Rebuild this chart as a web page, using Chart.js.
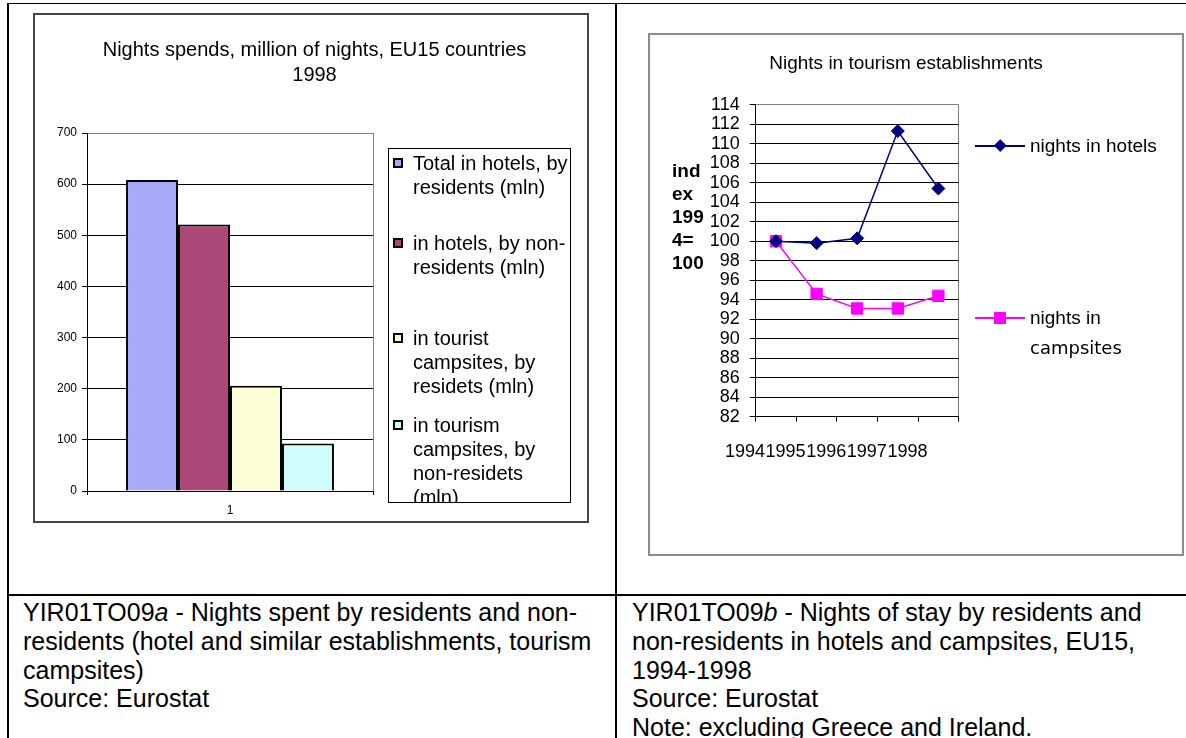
<!DOCTYPE html>
<html>
<head>
<meta charset="utf-8">
<script src="https://cdn.jsdelivr.net/npm/chart.js@4.4.1/dist/chart.umd.min.js"></script>
<style>
  html, body { margin: 0; padding: 0; background: #fff; }
  body { width: 1186px; height: 738px; position: relative; overflow: hidden;
         font-family: "Liberation Sans", Arial, sans-serif; color: #000; }
  .rule { position: absolute; background: #000; }
  canvas { position: absolute; }
  #barCanvas { left: 36px; top: 14px; }
  #lineCanvas { left: 649px; top: 34px; }
  #leftBox { position: absolute; left: 33px; top: 13px; width: 556px; height: 510px;
             box-sizing: border-box; border: 2px solid #444; }
  #rightBox { position: absolute; left: 648px; top: 33px; width: 536px; height: 523px;
              box-sizing: border-box; border: 2px solid #8c8c8c; }
  #barLegend { position: absolute; left: 388px; top: 148px; width: 183px; height: 355px;
               box-sizing: border-box; border: 1px solid #000; overflow: hidden; }
  .barItem { position: absolute; left: 0; width: 100%; }
  .barItem .swatch { position: absolute; left: 4px; top: 7px; width: 10px; height: 10px;
                     box-sizing: border-box; border: 2px solid #000; }
  .barItem .txt { position: absolute; left: 24px; top: 0; width: 159px; font-size: 20px; line-height: 24px; }
  .lineItem { position: absolute; left: 975px; width: 205px; height: 30px; }
  .lineItem .sample { position: absolute; left: 0; top: 14px; width: 50px; height: 2px; }
  .lineItem .marker { position: absolute; }
  .lineItem .txt { position: absolute; left: 55px; top: 0; width: 150px;
                   font-family: "DejaVu Sans", sans-serif; font-size: 18px; line-height: 30px; }
  .lineItem .txt::first-line { font-family: "Liberation Sans", Arial, sans-serif; font-size: 19px; }
  #yTitle { position: absolute; left: 672px; top: 158.5px; font-weight: bold; font-size: 19px; line-height: 23px; }
  .caption { position: absolute; top: 598px; font-size: 25px; line-height: 28.75px; white-space: nowrap; }
</style>
</head>
<body>

<!-- table rules -->
<div class="rule" style="left:7px; top:2.5px; width:1179px; height:1.5px;"></div>
<div class="rule" style="left:7.3px; top:3px; width:1.5px; height:735px;"></div>
<div class="rule" style="left:615.3px; top:3px; width:1.5px; height:735px;"></div>
<div class="rule" style="left:7px; top:594.3px; width:1179px; height:1.5px;"></div>

<div id="leftBox"></div>
<div id="rightBox"></div>

<canvas id="barCanvas" width="557" height="508"></canvas>
<div id="barLegend"></div>

<canvas id="lineCanvas" width="514" height="521"></canvas>
<div id="yTitle"></div>

<div class="caption" style="left:23px;">YIR01TO09<i>a</i> - Nights spent by residents and non-<br>residents (hotel and similar establishments, tourism<br>campsites)<br>Source: Eurostat</div>
<div class="caption" style="left:632px;">YIR01TO09<i>b</i> - Nights of stay by residents and<br>non-residents in hotels and campsites, EU15,<br>1994-1998<br>Source: Eurostat<br>Note: excluding Greece and Ireland.</div>

<script>
// left chart data (million nights, 1998)
const barCategories = ['1'];
const barSeriesLabels = [
    'Total in hotels, by residents (mln)',
    'in hotels, by non-residents (mln)',
    'in tourist campsites, by residets (mln)',
    'in tourism campsites, by non-residets (mln)'
];
const hotelsResidents = [608];
const hotelsNonResidents = [521];
const campsitesResidents = [206];
const campsitesNonResidents = [93];
const barTicks = { min: 0, max: 700, step: 100 };

// right chart data (index 1994 = 100)
const years = ['1994', '1995', '1996', '1997', '1998'];
const lineSeriesLabels = ['nights in hotels', 'nights in campsites'];
const nightsInHotels = [100, 99.8, 100.3, 111.3, 105.4];
const nightsInCampsites = [100, 94.6, 93.1, 93.1, 94.4];
const lineTicks = { min: 82, max: 114, step: 2 };
const yTitleLines = ['ind', 'ex', '199', '4=', '100'];

Chart.defaults.font.family = '"Liberation Sans", Arial, sans-serif';
Chart.defaults.color = '#000';

// empty axis that only reserves room for the html legend on the right
function spacerAxis(width) {
    return {
        type: 'linear',
        position: 'right',
        display: true,
        grid: { display: false },
        border: { display: false },
        ticks: { display: false },
        afterFit: s => { s.width = width; }
    };
}

const barData = [hotelsResidents, hotelsNonResidents, campsitesResidents, campsitesNonResidents];
const barFill = ['#A9A9FC', '#AC4877', '#FFFFD7', '#CFFCFC'];

const barChart = new Chart(document.getElementById('barCanvas'), {
    type: 'bar',
    data: {
        labels: barCategories,
        datasets: barData.map((values, i) => ({
            label: barSeriesLabels[i],
            data: values,
            yAxisID: 'y',
            backgroundColor: barFill[i],
            borderColor: '#000',
            borderWidth: 2,
            barPercentage: 1,
            categoryPercentage: 0.727
        }))
    },
    options: {
        responsive: false,
        animation: false,
        layout: { padding: { left: 0, right: 0, top: 0, bottom: 4.6 } },
        plugins: {
            legend: { display: false },
            tooltip: { enabled: false },
            title: {
                display: true,
                text: ['Nights spends, million of nights, EU15 countries', '1998'],
                font: { size: 20, weight: 'normal', lineHeight: 1.25 },
                color: '#000',
                padding: { top: 23.5, bottom: 45.5 }
            }
        },
        scales: {
            x: {
                grid: {
                    color: c => c.type === 'scale' ? '#808080' : 'rgba(0,0,0,0)',
                    tickColor: '#000',
                    tickLength: 4
                },
                border: { color: '#000', width: 1 },
                ticks: { font: { size: 12 }, padding: 8, color: '#000' },
                afterFit: s => { s.height = 26.4; }
            },
            y: {
                min: barTicks.min,
                max: barTicks.max,
                ticks: { stepSize: barTicks.step, font: { size: 12 }, padding: 5, color: '#000' },
                grid: {
                    color: c => c.tick && c.tick.value === barTicks.max ? '#808080' : '#000',
                    tickColor: '#000',
                    tickLength: 5
                },
                border: { color: '#000', width: 1 },
                afterFit: s => { s.width = 51; }
            },
            pad: spacerAxis(220)
        }
    }
});

// html legend for the bar chart
const barLegend = document.getElementById('barLegend');
const barItemTops = [2, 82, 177, 264];
barChart.data.datasets.forEach((ds, i) => {
    const item = document.createElement('div');
    item.className = 'barItem';
    item.style.top = barItemTops[i] + 'px';
    const sw = document.createElement('span');
    sw.className = 'swatch';
    sw.style.background = ds.backgroundColor;
    const tx = document.createElement('span');
    tx.className = 'txt';
    tx.textContent = ds.label;
    item.appendChild(sw);
    item.appendChild(tx);
    barLegend.appendChild(item);
});

const lineChart = new Chart(document.getElementById('lineCanvas'), {
    type: 'line',
    data: {
        labels: years,
        datasets: [
            {
                label: lineSeriesLabels[0],
                data: nightsInHotels,
                yAxisID: 'y',
                borderColor: '#000080',
                backgroundColor: '#000080',
                borderWidth: 1.5,
                pointStyle: 'rectRot',
                pointRadius: 6.5,
                pointBorderWidth: 1
            },
            {
                label: lineSeriesLabels[1],
                data: nightsInCampsites,
                yAxisID: 'y',
                borderColor: '#FF00FF',
                backgroundColor: '#FF00FF',
                borderWidth: 1.5,
                pointStyle: 'rect',
                pointRadius: 8,
                pointBorderWidth: 1
            }
        ]
    },
    options: {
        responsive: false,
        animation: false,
        layout: { padding: { left: 0, right: 0, top: 0, bottom: 92.5 } },
        plugins: {
            legend: { display: false },
            tooltip: { enabled: false },
            title: {
                display: true,
                text: 'Nights in tourism establishments',
                font: { size: 19, weight: 'normal', lineHeight: 1.2 },
                color: '#000',
                padding: { top: 17.9, bottom: 30 }
            }
        },
        scales: {
            x: {
                offset: true,
                grid: {
                    offset: true,
                    color: c => c.type === 'scale' ? '#808080' : 'rgba(0,0,0,0)',
                    tickColor: '#000',
                    tickLength: 5
                },
                border: { color: '#000' },
                ticks: { font: { size: 18 }, padding: 19.2, labelOffset: -31, maxRotation: 0, autoSkip: false, color: '#000' },
                afterFit: s => { s.height = 45.8; }
            },
            y: {
                min: lineTicks.min,
                max: lineTicks.max,
                ticks: { stepSize: lineTicks.step, autoSkip: false, font: { size: 18 }, padding: 10, color: '#000' },
                grid: {
                    color: c => c.tick && c.tick.value === lineTicks.max ? '#808080' : '#000',
                    tickColor: '#000',
                    tickLength: 6
                },
                border: { color: '#000' },
                afterFit: s => { s.width = 106.7; }
            },
            pad: spacerAxis(204.3)
        }
    }
});

document.getElementById('yTitle').innerHTML = yTitleLines.join('<br>');

// html legend for the line chart
const lineItemTops = [130.7, 302.5];
lineChart.data.datasets.forEach((ds, i) => {
    const item = document.createElement('div');
    item.className = 'lineItem';
    item.style.top = lineItemTops[i] + 'px';
    const sample = document.createElement('div');
    sample.className = 'sample';
    sample.style.background = ds.borderColor;
    const marker = document.createElement('div');
    marker.className = 'marker';
    marker.style.background = ds.backgroundColor;
    if (ds.pointStyle === 'rectRot') {
        marker.style.width = '8.5px';
        marker.style.height = '8.5px';
        marker.style.left = (25 - 4.25) + 'px';
        marker.style.top = (15 - 4.25) + 'px';
        marker.style.transform = 'rotate(45deg)';
    } else {
        marker.style.width = '12px';
        marker.style.height = '12px';
        marker.style.left = '19px';
        marker.style.top = '9px';
    }
    const tx = document.createElement('div');
    tx.className = 'txt';
    tx.textContent = ds.label;
    item.appendChild(sample);
    item.appendChild(marker);
    item.appendChild(tx);
    document.body.appendChild(item);
});
</script>
</body>
</html>
